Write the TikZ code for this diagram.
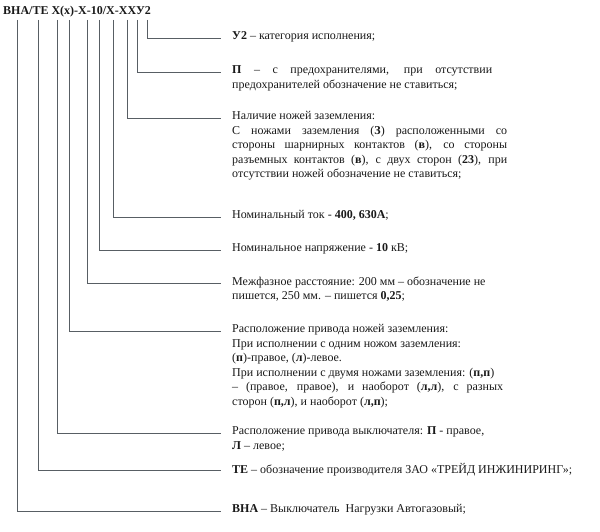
\documentclass[tikz,border=0pt]{standalone}
\usepackage{fontspec}
\setmainfont{Liberation Serif}
\definecolor{vnaline}{RGB}{88,94,100}
\definecolor{vnatext}{RGB}{25,25,25}
\newcommand{\LX}{232}
\newcommand{\TY}{20}

\begin{document}
\begin{tikzpicture}[
    x=1pt, y=-1pt,
    lead/.style={draw=vnaline, line width=0.9pt},
    code/.style={anchor=north west, inner sep=0pt, text=vnatext,
      font=\bfseries\fontsize{12}{14}\selectfont},
    lbl/.style={anchor=north west, inner sep=0pt, text=vnatext, align=justify,
      font=\fontsize{12}{14.5}\selectfont},
  ]
  \useasboundingbox (0,0) rectangle (600,532);

  %% the type code
  \node[code] (hdr) at (3,6) {ВНА/ТЕ Х(х)-Х-10/Х-ХХУ2};

  %% the explanations, top to bottom
  \node[lbl, text width=200pt] (kat) at (\LX,31.5) {\textbf{У2} – категория исполнения;};
  \node[lbl, text width=260pt] (fuse) at (\LX,65.5)
    {\textbf{П} – с предохранителями, при отсутствии\linebreak
     предохранителей обозначение не ставиться;};
  \node[lbl, text width=275pt] (knife) at (\LX,111.5)
    {Наличие ножей заземления:\\
     С ножами заземления (\textbf{З}) расположенными со\linebreak
     стороны шарнирных контактов (\textbf{в}), со стороны\linebreak
     разъемных контактов (\textbf{в}), с двух сторон (\textbf{23}), при\linebreak
     отсутствии ножей обозначение не ставиться;};
  \node[lbl, text width=260pt] (cur) at (\LX,210.5) {Номинальный ток - \textbf{400, 630А};};
  \node[lbl, text width=260pt] (volt) at (\LX,243.5) {Номинальное напряжение - \textbf{10} кВ;};
  \node[lbl, text width=275pt] (phase) at (\LX,276.5)
    {Межфазное расстояние: 200 мм – обозначение не\\
     пишется, 250 мм. – пишется \textbf{0,25};};
  \node[lbl, text width=271pt] (kdrv) at (\LX,324.5)
    {Расположение привода ножей заземления:\\
     При исполнении с одним ножом заземления:\\
     (\textbf{п})-правое, (\textbf{л})-левое.\\
     При исполнении с двумя ножами заземления: (\textbf{п,п})\\
     – (правое, правое), и наоборот (\textbf{л,л}), с разных\linebreak
     сторон (\textbf{п,л}), и наоборот (\textbf{л,п});};
  \node[lbl, text width=275pt] (sdrv) at (\LX,426.5)
    {Расположение привода выключателя: \textbf{П} - правое,\\
     \textbf{Л} – левое;};
  \node[lbl, text width=360pt] (te) at (\LX,463.5)
    {\textbf{ТЕ} – обозначение производителя ЗАО «ТРЕЙД ИНЖИНИРИНГ»;};
  \node[lbl, text width=275pt] (vna) at (\LX,504.5)
    {\textbf{ВНА} – Выключатель\ \ Нагрузки Автогазовый;};

  %% leaders: from under the code down and across to each explanation
  \foreach \tk/\nm in {147/kat,137/fuse,127/knife,113/cur,99/volt,
                       87/phase,69/kdrv,57/sdrv,38/te,17/vna} {
    \coordinate (top-\nm) at (\tk,\TY);
    \draw[lead] (top-\nm) |- ([xshift=-11pt,yshift=-6.5pt]\nm.north west);
  }

\end{tikzpicture}
\end{document}
